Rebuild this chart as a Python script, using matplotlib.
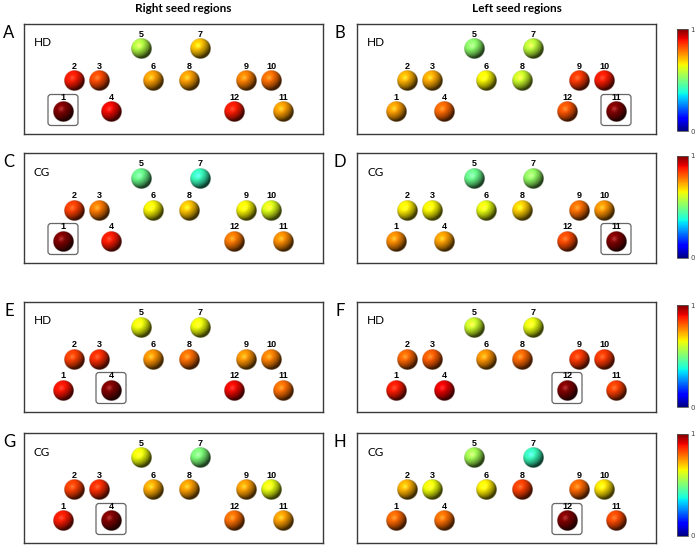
import numpy as np
import matplotlib
matplotlib.use("Agg")
import matplotlib.pyplot as plt
from matplotlib import cm
from matplotlib.colors import Normalize
from matplotlib.patches import FancyBboxPatch

# region ids and correlation strength (0..1) per panel, region 1..12
regions = list(range(1, 13))
panel_A = [1.00, 0.88, 0.83, 0.90, 0.57, 0.74, 0.70, 0.74, 0.77, 0.79, 0.74, 0.88]
panel_B = [0.74, 0.72, 0.73, 0.80, 0.52, 0.65, 0.58, 0.60, 0.85, 0.88, 1.00, 0.82]
panel_C = [1.00, 0.84, 0.78, 0.88, 0.48, 0.65, 0.42, 0.70, 0.65, 0.62, 0.76, 0.78]
panel_D = [0.76, 0.66, 0.65, 0.74, 0.48, 0.63, 0.53, 0.69, 0.79, 0.75, 1.00, 0.83]
panel_E = [0.89, 0.84, 0.86, 1.00, 0.64, 0.75, 0.64, 0.79, 0.75, 0.77, 0.79, 0.90]
panel_F = [0.88, 0.80, 0.81, 0.91, 0.60, 0.75, 0.63, 0.80, 0.85, 0.85, 0.84, 1.00]
panel_G = [0.88, 0.84, 0.86, 1.00, 0.64, 0.73, 0.50, 0.74, 0.74, 0.63, 0.74, 0.79]
panel_H = [0.80, 0.72, 0.64, 0.79, 0.55, 0.66, 0.42, 0.84, 0.80, 0.67, 0.83, 1.00]
letters = ["A", "B", "C", "D", "E", "F", "G", "H"]
groups = ["HD", "HD", "CG", "CG", "HD", "HD", "CG", "CG"]
seeds = [1, 11, 1, 11, 4, 12, 4, 12]
col_titles = ["Right seed regions", "Left seed regions"]

panels = [panel_A, panel_B, panel_C, panel_D, panel_E, panel_F, panel_G, panel_H]

# layout of the spheres inside a box (pixels, y from top)
pos = {1: (39, 88), 2: (50, 57), 3: (75, 57), 4: (87, 88), 5: (117, 25),
       6: (129, 57), 7: (176, 25), 8: (165, 57), 9: (222, 57), 10: (247, 57),
       11: (259, 88), 12: (210, 88)}
R = 10.5
W, H = 299, 110

cmap = matplotlib.colormaps["jet"]
TXT = ["Lato", "DejaVu Sans"]
NUM = ["Liberation Sans", "DejaVu Sans"]


def sphere_img(color, n=64):
    t = np.linspace(-1, 1, n)
    x, y = np.meshgrid(t, -t)
    rr = x**2 + y**2
    z = np.sqrt(np.clip(1 - rr, 0, 1))
    L = np.array([-0.4, 0.5, 0.77])
    L = L / np.linalg.norm(L)
    d = np.clip(x*L[0] + y*L[1] + z*L[2], 0, 1)
    Hh = L + np.array([0, 0, 1.0])
    Hh = Hh / np.linalg.norm(Hh)
    s = np.clip(x*Hh[0] + y*Hh[1] + z*Hh[2], 0, 1) ** 30
    base = np.array(color[:3])
    rgb = base[None, None, :] * (0.25 + 0.85*d[..., None]) + 0.2*s[..., None]
    rgb = np.clip(rgb, 0, 1)
    alpha = np.clip((1 - np.sqrt(rr)) * n / 2, 0, 1)
    return np.dstack([rgb, alpha])


fig = plt.figure(figsize=(6.97, 5.45), dpi=100)
FW, FH = 697, 545
lefts = [24, 357]
tops = [24, 153, 302, 433]

for k, vals in enumerate(panels):
    r, c = divmod(k, 2)
    ax = fig.add_axes([lefts[c]/FW, 1 - (tops[r] + H)/FH, W/FW, H/FH])
    ax.set_xlim(0, W)
    ax.set_ylim(0, H)
    ax.set_xticks([])
    ax.set_yticks([])
    for sp in ax.spines.values():
        sp.set_color("#3a3a3a")
        sp.set_linewidth(1.0)
    for reg, v in zip(regions, vals):
        px, py = pos[reg]
        cy = H - py
        ax.imshow(sphere_img(cmap(v)), extent=(px - R, px + R, cy - R, cy + R),
                  origin="upper", interpolation="bilinear", zorder=3)
        ax.text(px, cy + R + 4, str(reg), ha="center", va="center",
                fontsize=6.5, fontweight="bold", family=NUM, zorder=4)
        if reg == seeds[k]:
            box = FancyBboxPatch((px - 15, cy - 13.5), 30, 31,
                                 boxstyle="round,pad=0,rounding_size=3",
                                 fill=False, edgecolor="#666666", lw=0.9, zorder=2)
            ax.add_patch(box)
    ax.set_aspect("auto")
    ax.text(10, H - 19, groups[k], fontsize=8.5, ha="left", va="center", family=TXT)
    fig.text((9 if c == 0 else 340)/FW, 1 - (tops[r] + 9)/FH, letters[k],
             fontsize=12, ha="center", va="center", family=TXT)

for c, t in enumerate(col_titles):
    fig.text((lefts[c] + W/2 + 10)/FW, 1 - 8/FH, t, fontsize=8.5,
             fontweight="bold", ha="center", va="center", family=TXT)

cb_tops = [29, 156, 305, 434]
for t in cb_tops:
    cax = fig.add_axes([677/FW, 1 - (t + 102)/FH, 11/FW, 102/FH])
    sm = cm.ScalarMappable(norm=Normalize(0, 1), cmap=cmap)
    cb = fig.colorbar(sm, cax=cax, ticks=[0, 1])
    cb.outline.set_edgecolor("#555555")
    cb.outline.set_linewidth(0.6)
    cax.tick_params(labelsize=5, length=0, pad=1.5, colors="#444444")

fig.savefig("out.png", dpi=100)
